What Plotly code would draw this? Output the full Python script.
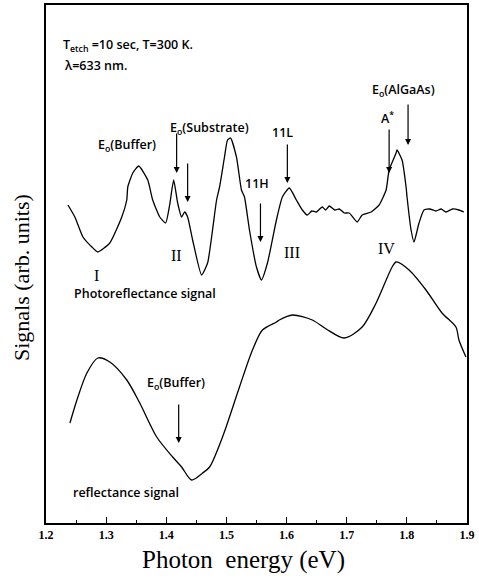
import plotly.graph_objects as go

# Photoreflectance signal (upper curve)
pr_energy = [1.2365, 1.248, 1.2614, 1.2763, 1.2862, 1.3061, 1.326, 1.3343, 1.336, 1.3443,
             1.3542, 1.3692, 1.3774, 1.3891, 1.399, 1.4056, 1.4123, 1.4189, 1.4255, 1.4305,
             1.4355, 1.4438, 1.4587, 1.4687, 1.4769, 1.4836, 1.4886, 1.4968, 1.5018, 1.5068,
             1.5167, 1.525, 1.53, 1.5383, 1.5499, 1.5582, 1.5682, 1.5831, 1.593, 1.6046,
             1.6163, 1.6262, 1.6345, 1.642, 1.6494, 1.6594, 1.665, 1.671, 1.68, 1.6876,
             1.696, 1.7041, 1.7174, 1.7257, 1.7406, 1.7539, 1.7655, 1.7705, 1.7821, 1.7837,
             1.792, 1.7987, 1.8003, 1.807, 1.8119, 1.8202, 1.8285, 1.838, 1.8484, 1.857,
             1.865, 1.876, 1.8866, 1.8948]
pr_signal = [31.8, 30.6, 28.6, 27.6, 27.1, 28.0, 30.6, 32.3, 33.6, 35.0,
             35.7, 34.3, 32.3, 30.6, 30.0, 31.8, 34.3, 32.0, 30.6, 31.1,
             30.6, 28.3, 24.8, 26.0, 29.3, 32.3, 33.6, 36.6, 38.3, 38.5,
             36.6, 33.3, 32.6, 29.3, 25.6, 24.3, 26.0, 30.3, 32.6, 33.5,
             32.3, 31.3, 30.8, 31.2, 31.1, 31.6, 31.3, 31.7, 31.3, 31.4,
             31.0, 31.0, 30.1, 30.8, 31.1, 31.8, 33.3, 35.3, 37.0, 37.3,
             36.3, 33.6, 32.6, 29.3, 28.1, 30.0, 31.3, 31.4, 31.2, 31.4,
             31.1, 31.4, 31.3, 31.1]

# Reflectance signal (lower curve)
r_energy = [1.2398, 1.2514, 1.268, 1.2862, 1.3061, 1.3343, 1.3559, 1.3841, 1.4106, 1.4255,
            1.4421, 1.4604, 1.472, 1.4935, 1.5217, 1.5433, 1.5599, 1.5831, 1.588, 1.6096,
            1.6428, 1.666, 1.6959, 1.7257, 1.7489, 1.7755, 1.7821, 1.8037, 1.8318, 1.8584,
            1.8816, 1.8866, 1.8982]
r_signal = [10.0, 12.3, 15.0, 16.5, 16.1, 14.3, 12.0, 8.6, 6.6, 5.6,
            4.3, 5.0, 5.6, 8.6, 13.6, 17.3, 19.3, 20.1, 20.3, 20.8,
            20.3, 19.4, 18.5, 19.6, 22.0, 25.6, 26.1, 25.3, 23.3, 21.0,
            19.6, 18.3, 16.6]

tick_vals = [1.2, 1.3, 1.4, 1.5, 1.6, 1.7, 1.8, 1.9]
tick_text = ["1.2", "1.3", "1.4", "1.5", "1.6", "1.7", "1.8", "1.9"]

# arrows: (x, y_tail, y_head)
arrow_x = [1.4172, 1.4355, 1.5566, 1.6013, 1.7705, 1.802, 1.4206]
arrow_tail = [39.1, 36.1, 32.1, 38.0, 39.5, 42.0, 12.0]
arrow_head = [35.0, 32.1, 28.1, 34.0, 35.0, 37.8, 8.0]

# centered labels
label_text = ["E<sub>o</sub>(Buffer)", "E<sub>o</sub>(Substrate)", "11L", "11H",
              "E<sub>o</sub>(AlGaAs)", "A<sup>*</sup>", "E<sub>o</sub>(Buffer)"]
label_x = [1.334, 1.472, 1.593, 1.5516, 1.795, 1.767, 1.4156]
label_y = [37.8, 39.5, 39.1, 34.0, 43.3, 40.5, 14.0]

roman_text = ["I", "II", "III", "IV"]
roman_x = [1.2846, 1.4172, 1.6096, 1.7655]
roman_y = [24.8, 26.8, 27.1, 27.5]

left_text = ["T<sub>etch</sub> =10 sec, T=300 K.", "λ=633 nm.",
             "Photoreflectance signal", "reflectance signal"]
left_x = [1.225, 1.227, 1.243, 1.2415]
left_y = [47.8, 45.8, 23.0, 3.1]

fig = go.Figure()
fig.add_trace(go.Scatter(x=pr_energy, y=pr_signal, mode="lines",
                         line=dict(color="black", width=1.3, shape="spline", smoothing=0.5),
                         showlegend=False, hoverinfo="skip"))
fig.add_trace(go.Scatter(x=r_energy, y=r_signal, mode="lines",
                         line=dict(color="black", width=1.3, shape="spline", smoothing=0.8),
                         showlegend=False, hoverinfo="skip"))

ann = []
sans = dict(family="Open Sans", size=12.5, color="black", weight=600)
for x, yt, yh in zip(arrow_x, arrow_tail, arrow_head):
    ann.append(dict(x=x, y=yh, ax=x, ay=yt, xref="x", yref="y", axref="x", ayref="y",
                    text="", showarrow=True, arrowhead=2, arrowsize=1, arrowwidth=1.2,
                    arrowcolor="black"))
for t, x, y in zip(label_text, label_x, label_y):
    ann.append(dict(x=x, y=y, text=t, showarrow=False, xanchor="center", yanchor="middle",
                    font=sans))
for t, x, y in zip(roman_text, roman_x, roman_y):
    ann.append(dict(x=x, y=y, text=t, showarrow=False, xanchor="center", yanchor="middle",
                    font=dict(family="Liberation Serif", size=16, color="black")))
for t, x, y in zip(left_text, left_x, left_y):
    ann.append(dict(x=x, y=y, text=t, showarrow=False, xanchor="left", yanchor="middle",
                    font=sans))
# axis titles as paper-anchored annotations
ann.append(dict(x=243, y=560, xref="paper", yref="paper", text="Photon  energy (eV)",
                showarrow=False, font=dict(family="Liberation Serif", size=25, color="black")))
ann.append(dict(x=21, y=278, xref="paper", yref="paper", text="Signals (arb. units)",
                textangle=-90, showarrow=False,
                font=dict(family="Liberation Serif", size=22, color="black")))

W, H = 479, 585
L, R, T, B = 46, 12, 5, 62
pw, ph = W - L - R, H - T - B
for a in ann[-2:]:
    a["x"] = (a["x"] - L) / pw
    a["y"] = (H - B - a["y"]) / ph
    a["xanchor"] = "center"
    a["yanchor"] = "middle"

fig.update_layout(
    width=W, height=H,
    margin=dict(l=L, r=R, t=T, b=B),
    paper_bgcolor="white", plot_bgcolor="white",
    annotations=ann,
    hovermode=False,
    xaxis=dict(range=[1.2, 1.9], tickvals=tick_vals, ticktext=tick_text, automargin=False,
               ticks="inside", ticklen=6, tickwidth=1.2, tickcolor="black",
               minor=dict(ticks="inside", ticklen=3, dtick=0.05, tick0=1.2, tickcolor="black"),
               showgrid=False, zeroline=False, showline=True, linecolor="black",
               linewidth=1.6, mirror=True,
               tickfont=dict(family="Liberation Serif", size=12, color="black", weight="bold")),
    yaxis=dict(range=[0, 51.8], showticklabels=False, ticks="", showgrid=False,
               zeroline=False, showline=True, linecolor="black", linewidth=1.6, mirror=True,
               automargin=False),
)

fig.write_html("out.html", config={"displayModeBar": False},
               post_script="document.body.style.margin='0';")
